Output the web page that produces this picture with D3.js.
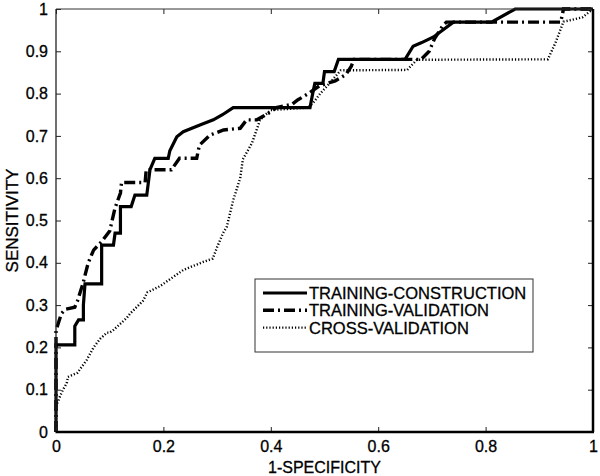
<!DOCTYPE html>
<html>
<head>
<meta charset="utf-8">
<script src="https://cdn.jsdelivr.net/npm/d3@7"></script>
<style>
  html, body { margin: 0; padding: 0; background: #fff; }
  svg { display: block; }
  text { font-family: "Liberation Sans", Arial, sans-serif; fill: #000; stroke: #000; stroke-width: 0.3px; }
</style>
</head>
<body>
<svg id="chart" width="600" height="476"></svg>
<script>
// ---- Data ----
const tickValues = [0, 0.1, 0.2, 0.3, 0.4, 0.5, 0.6, 0.7, 0.8, 0.9, 1];
const xTickValues = [0, 0.2, 0.4, 0.6, 0.8, 1];
const seriesNames = ["TRAINING-CONSTRUCTION", "TRAINING-VALIDATION", "CROSS-VALIDATION"];

const constructionX = [0, 0, 0.035, 0.035, 0.042, 0.042, 0.051, 0.051, 0.054, 0.082, 0.085, 0.085, 0.107, 0.11, 0.12, 0.12, 0.14, 0.147, 0.169, 0.175, 0.184, 0.209, 0.212, 0.225, 0.237, 0.268, 0.293, 0.31, 0.33, 0.473, 0.478, 0.482, 0.497, 0.5, 0.518, 0.526, 0.65, 0.665, 0.68, 0.703, 0.74, 0.811, 0.855, 1];
const constructionY = [0, 0.206, 0.206, 0.25, 0.265, 0.265, 0.265, 0.30, 0.35, 0.35, 0.35, 0.442, 0.442, 0.47, 0.47, 0.533, 0.533, 0.56, 0.56, 0.62, 0.647, 0.647, 0.665, 0.698, 0.71, 0.726, 0.738, 0.75, 0.767, 0.767, 0.80, 0.824, 0.824, 0.852, 0.852, 0.881, 0.881, 0.912, 0.92, 0.934, 0.969, 0.969, 1, 1];

const validationX = [0, 0, 0.01, 0.017, 0.035, 0.04, 0.05, 0.06, 0.07, 0.085, 0.1, 0.11, 0.12, 0.122, 0.166, 0.168, 0.215, 0.23, 0.262, 0.267, 0.287, 0.312, 0.343, 0.355, 0.374, 0.4, 0.41, 0.44, 0.45, 0.47, 0.49, 0.52, 0.54, 0.55, 0.555, 0.68, 0.695, 0.705, 0.72, 0.727, 0.94, 0.945, 1];
const validationY = [0, 0.24, 0.28, 0.29, 0.295, 0.31, 0.35, 0.40, 0.43, 0.45, 0.475, 0.53, 0.565, 0.59, 0.59, 0.62, 0.62, 0.647, 0.647, 0.678, 0.702, 0.714, 0.718, 0.738, 0.738, 0.757, 0.767, 0.775, 0.785, 0.80, 0.818, 0.83, 0.845, 0.865, 0.881, 0.881, 0.90, 0.93, 0.96, 0.969, 0.969, 1, 1];

const crossX = [0, 0, 0.007, 0.013, 0.02, 0.022, 0.04, 0.057, 0.07, 0.082, 0.095, 0.1, 0.106, 0.132, 0.138, 0.162, 0.17, 0.194, 0.237, 0.274, 0.292, 0.3, 0.311, 0.318, 0.33, 0.343, 0.348, 0.361, 0.365, 0.38, 0.39, 0.4, 0.47, 0.48, 0.492, 0.51, 0.53, 0.654, 0.672, 0.916, 0.93, 0.945, 0.98, 1];
const crossY = [0, 0.06, 0.083, 0.10, 0.115, 0.13, 0.14, 0.17, 0.20, 0.22, 0.235, 0.235, 0.24, 0.27, 0.28, 0.31, 0.33, 0.345, 0.383, 0.402, 0.41, 0.437, 0.47, 0.485, 0.548, 0.60, 0.645, 0.674, 0.683, 0.738, 0.75, 0.761, 0.767, 0.78, 0.80, 0.825, 0.855, 0.856, 0.88, 0.881, 0.92, 0.97, 0.98, 1];

// ---- Layout ----
const svg = d3.select("#chart");
const pL = 56, pR = 593, pT = 9, pB = 432;
const x = d3.scaleLinear().domain([0, 1]).range([pL, pR]);
const y = d3.scaleLinear().domain([0, 1]).range([pB, pT]);

svg.append("rect").attr("width", 600).attr("height", 476).attr("fill", "#fff");

const styles = [
  { xs: constructionX, ys: constructionY, width: 3.2, dash: null, color: "#000" },
  { xs: validationX, ys: validationY, width: 3.4, dash: "11,4,2,4", color: "#000" },
  { xs: crossX, ys: crossY, width: 2.4, dash: "1.2,2", color: "#000" }
];

const line = d3.line().x(d => x(d[0])).y(d => y(d[1]));

[2, 1, 0].forEach(i => {
  const s = styles[i];
  const pts = s.xs.map((v, k) => [v, s.ys[k]]);
  svg.append("path")
    .attr("d", line(pts))
    .attr("fill", "none")
    .attr("stroke", s.color)
    .attr("stroke-width", s.width)
    .attr("stroke-dasharray", s.dash)
    .attr("stroke-linejoin", "miter");
});

const fmt = d => d === 0 ? "0" : d === 1 ? "1" : d3.format(".1f")(d);
const gB = svg.append("g").attr("transform", `translate(0,${pB})`)
  .call(d3.axisBottom(x).tickValues(xTickValues).tickSizeInner(-5).tickSizeOuter(0).tickPadding(9).tickFormat(fmt));
const gL = svg.append("g").attr("transform", `translate(${pL},0)`)
  .call(d3.axisLeft(y).tickValues(tickValues).tickSizeInner(-5).tickSizeOuter(0).tickPadding(8).tickFormat(fmt));
const gT = svg.append("g").attr("transform", `translate(0,${pT})`)
  .call(d3.axisTop(x).tickValues(xTickValues).tickSizeInner(-5).tickSizeOuter(0).tickFormat(""));
const gR = svg.append("g").attr("transform", `translate(${pR},0)`)
  .call(d3.axisRight(y).tickValues(tickValues).tickSizeInner(-5).tickSizeOuter(0).tickFormat(""));

[gB, gL, gT, gR].forEach(g => {
  g.select(".domain").remove();
  g.selectAll(".tick line").attr("stroke", "#222").attr("stroke-width", 1);
  g.selectAll("text").attr("font-size", 16).attr("font-family", "Liberation Sans, Arial, sans-serif").attr("fill", "#000");
});

svg.append("line").attr("x1", pL).attr("x2", pR).attr("y1", pT).attr("y2", pT).attr("stroke", "#333").attr("stroke-width", 1);
svg.append("line").attr("x1", pL).attr("x2", pL).attr("y1", pT).attr("y2", pB).attr("stroke", "#222").attr("stroke-width", 1.3);
svg.append("line").attr("x1", pL - 0.5).attr("x2", pR + 1).attr("y1", pB).attr("y2", pB).attr("stroke", "#000").attr("stroke-width", 2.5);
svg.append("line").attr("x1", pR).attr("x2", pR).attr("y1", pT).attr("y2", pB).attr("stroke", "#000").attr("stroke-width", 2.5);

svg.append("text").attr("x", (pL + pR) / 2).attr("y", 473)
  .attr("text-anchor", "middle").attr("font-size", 16).text("1-SPECIFICITY");
svg.append("text").attr("transform", `translate(18,${(pT + pB) / 2}) rotate(-90)`)
  .attr("text-anchor", "middle").attr("font-size", 17).text("SENSITIVITY");

const lg = svg.append("g");
lg.append("rect").attr("x", 255).attr("y", 279).attr("width", 278).attr("height", 73)
  .attr("fill", "#fff").attr("stroke", "#333").attr("stroke-width", 1);
seriesNames.forEach((name, i) => {
  const yy = 293 + i * 17.3;
  const s = styles[i];
  lg.append("line").attr("x1", 263).attr("x2", 307).attr("y1", yy).attr("y2", yy)
    .attr("stroke", s.color).attr("stroke-width", s.width).attr("stroke-dasharray", s.dash);
  lg.append("text").attr("x", 309).attr("y", yy).attr("dy", "0.36em")
    .attr("font-size", 16.5).text(name);
});
</script>
</body>
</html>
